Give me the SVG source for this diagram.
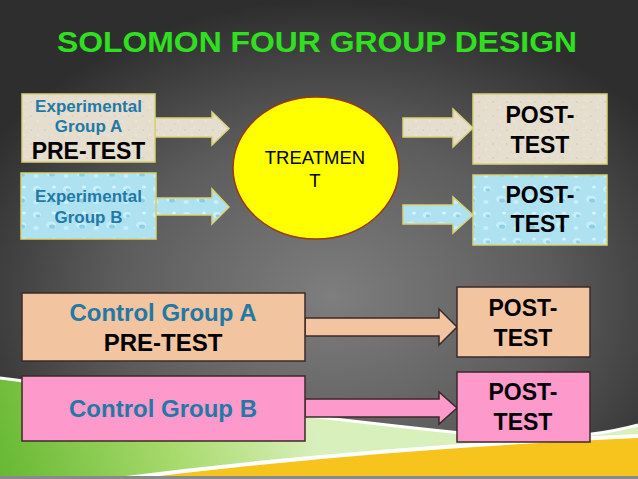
<svg xmlns="http://www.w3.org/2000/svg" width="638" height="479" viewBox="0 0 638 479">
  <defs>
    <radialGradient id="bg" cx="52%" cy="62%" r="62%">
      <stop offset="0" stop-color="#7e7e7e"/>
      <stop offset="0.55" stop-color="#5c5c5c"/>
      <stop offset="1" stop-color="#2e2e2e"/>
    </radialGradient>
    <linearGradient id="green" x1="0" y1="479" x2="300" y2="385" gradientUnits="userSpaceOnUse">
      <stop offset="0" stop-color="#66b832"/>
      <stop offset="0.55" stop-color="#a8da6c"/>
      <stop offset="1" stop-color="#d8f0bc"/>
    </linearGradient>
    <pattern id="sand" width="14" height="14" patternUnits="userSpaceOnUse">
      <rect width="14" height="14" fill="#e5dece"/>
      <circle cx="3" cy="4" r="0.8" fill="#cfc7b4"/>
      <circle cx="10" cy="9" r="0.7" fill="#f4efe4"/>
      <circle cx="7" cy="12" r="0.6" fill="#d2cab8"/>
      <circle cx="12" cy="2" r="0.6" fill="#f6f2e8"/>
    </pattern>
    <pattern id="water" width="30" height="26" patternUnits="userSpaceOnUse">
      <rect width="30" height="26" fill="#aee2f1"/>
      <ellipse cx="7" cy="7" rx="4" ry="3" fill="#cdf1f9"/>
      <ellipse cx="8" cy="8" rx="2.5" ry="1.8" fill="#92d3e6"/>
      <ellipse cx="21" cy="17" rx="5" ry="3.5" fill="#c6eef8"/>
      <ellipse cx="22" cy="18.5" rx="3" ry="2" fill="#8ccfe3"/>
      <ellipse cx="24" cy="5" rx="2" ry="1.5" fill="#d8f5fb"/>
      <ellipse cx="6" cy="20" rx="2.5" ry="2" fill="#cbeff8"/>
    </pattern>
    <style>
      .ttl{font-family:"Liberation Sans",Arial,sans-serif;font-weight:bold;font-size:30px;fill:#2fe01e}
      .blue{font-family:"Liberation Sans",Arial,sans-serif;font-weight:bold;fill:#2279a6;text-anchor:middle}
      .blk{font-family:"Liberation Sans",Arial,sans-serif;font-weight:bold;fill:#000;text-anchor:middle}
      .exp{stroke:#d8d175;stroke-width:1.5}
      .ctl{stroke:#3a2a2a;stroke-width:1.5}
      .sand{fill:url(#sand)}
      .water{fill:url(#water)}
      .peach{fill:#f3c4a0}
      .pink{fill:#fd99cb}
    </style>
  </defs>

  <!-- background -->
  <rect width="638" height="479" fill="url(#bg)"/>
  <path d="M0,378 Q330,420 500,437 Q580,441 638,425 L638,479 L0,479 Z" fill="url(#green)"/>
  <path d="M0,378 Q330,420 500,437 Q580,441 638,425" fill="none" stroke="#ffffff" stroke-width="3"/>
  <path d="M118,479 Q360,448 638,436 L638,479 Z" fill="#f6c41c"/>
  <path d="M118,479 Q360,448 638,436" fill="none" stroke="#ffffff" stroke-width="4"/>
  <rect x="0" y="476" width="638" height="3" fill="#8a8a8a"/>

  <text class="ttl" x="317" y="52" text-anchor="middle" textLength="520" lengthAdjust="spacingAndGlyphs">SOLOMON FOUR GROUP DESIGN</text>

  <!-- connectors -->
  <g id="connectors">
    <polygon class="sand exp" points="155,118 212,118 212,112 229,128.5 212,145 212,137 155,137"/>
    <polygon class="water exp" points="156,198 212,198 212,189 229,207 212,224 212,215 156,215"/>
    <polygon class="sand exp" points="403,118 453,118 453,109 473,128 453,147 453,137 403,137"/>
    <polygon class="water exp" points="403,205 453,205 453,197 473,215 453,233 453,224 403,224"/>
    <polygon class="peach ctl" points="305,318 439,318 439,309 457,327 439,345 439,336 305,336"/>
    <polygon class="pink ctl" points="305,399 439,399 439,392 457,408 439,424 439,417 305,417"/>
  </g>

  <g id="expA">
    <rect class="sand exp" x="22" y="94" width="133" height="68"/>
    <text class="blue" x="88.5" y="112" font-size="17">Experimental</text>
    <text class="blue" x="88.5" y="132" font-size="17">Group A</text>
    <text class="blk" x="88.5" y="159" font-size="23">PRE-TEST</text>
  </g>

  <g id="expB">
    <rect class="water exp" x="21" y="173" width="135" height="66"/>
    <text class="blue" x="88.5" y="202" font-size="17">Experimental</text>
    <text class="blue" x="88.5" y="223" font-size="17">Group B</text>
  </g>

  <g id="treatment">
    <ellipse cx="316" cy="168" rx="83" ry="71" fill="#ffff00" stroke="#9a3a12" stroke-width="1.5"/>
    <text x="315" y="164" font-family="Liberation Sans, Arial, sans-serif" font-size="18.5" text-anchor="middle" fill="#000">TREATMEN</text>
    <text x="315" y="187" font-family="Liberation Sans, Arial, sans-serif" font-size="18.5" text-anchor="middle" fill="#000">T</text>
  </g>

  <g id="postA">
    <rect class="sand exp" x="473" y="94" width="134" height="70"/>
    <text class="blk" x="540" y="123" font-size="23">POST-</text>
    <text class="blk" x="540" y="153" font-size="23">TEST</text>
  </g>

  <g id="postB">
    <rect class="water exp" x="473" y="175" width="134" height="70"/>
    <text class="blk" x="540" y="203" font-size="23">POST-</text>
    <text class="blk" x="540" y="232" font-size="23">TEST</text>
  </g>

  <g id="controlA">
    <rect class="peach ctl" x="22" y="293" width="283" height="68"/>
    <text class="blue" x="163" y="321" font-size="24">Control Group A</text>
    <text class="blk" x="163" y="351" font-size="24">PRE-TEST</text>
  </g>

  <g id="controlB">
    <rect class="pink ctl" x="22" y="376" width="283" height="65"/>
    <text class="blue" x="163" y="417" font-size="24">Control Group B</text>
  </g>

  <g id="postCA">
    <rect class="peach ctl" x="457" y="287" width="133" height="70"/>
    <text class="blk" x="523" y="316" font-size="23">POST-</text>
    <text class="blk" x="523" y="346" font-size="23">TEST</text>
  </g>

  <g id="postCB">
    <rect class="pink ctl" x="457" y="372" width="133" height="70"/>
    <text class="blk" x="523" y="400" font-size="23">POST-</text>
    <text class="blk" x="523" y="430" font-size="23">TEST</text>
  </g>
</svg>
